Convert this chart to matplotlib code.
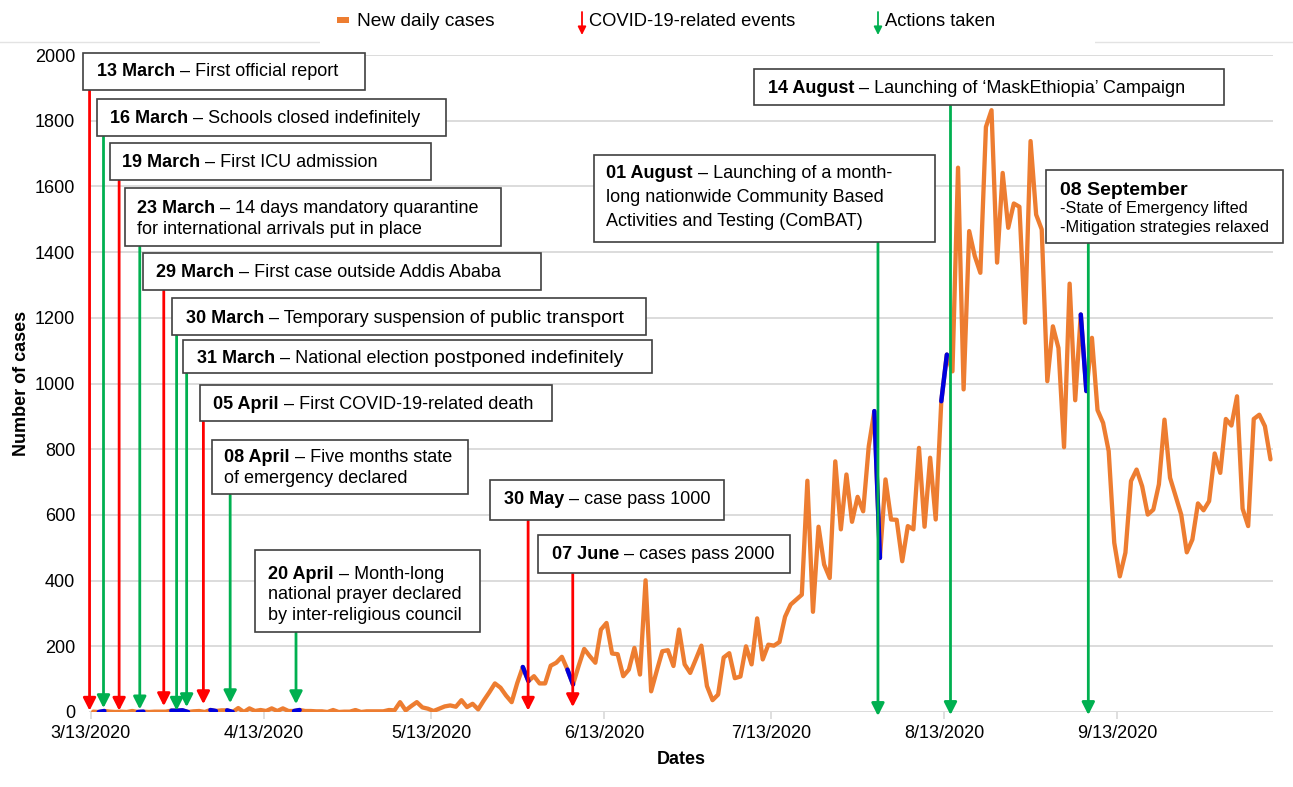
import matplotlib
matplotlib.use("Agg")
import matplotlib.pyplot as plt
import matplotlib.dates as mdates
from matplotlib.patches import Rectangle, FancyArrowPatch
from matplotlib.lines import Line2D
import pandas as pd

plt.rcParams['font.family'] = ['Liberation Sans', 'DejaVu Sans']

W, H, DPI = 1293, 787, 100

# ---------------- data ----------------
first_date = "2020-03-13"
new_daily_cases = [
    1, 0, 3, 1, 0, 1, 0, 3, 0, 1,
    0, 1, 1, 1, 4, 4, 5, 0, 2, 3,
    0, 6, 3, 5, 5, 0, 12, 0, 11, 3,
    6, 3, 11, 3, 11, 3, 3, 6, 3, 3,
    2, 2, 0, 6, 0, 1, 1, 6, 0, 2,
    2, 2, 2, 6, 5, 30, 5, 18, 30, 14,
    10, 3, 10, 17, 20, 16, 36, 15, 25, 8,
    35, 60, 87, 74, 50, 30, 88, 137, 94, 109,
    87, 87, 141, 150, 168, 129, 84, 140, 192, 170,
    150, 251, 271, 178, 176, 109, 129, 195, 114, 401,
    63, 125, 185, 188, 140, 251, 145, 119, 160, 202,
    79, 36, 53, 166, 179, 103, 108, 200, 145, 285,
    160, 205, 202, 213, 290, 327, 342, 357, 704, 305,
    564, 449, 408, 763, 556, 723, 579, 655, 611, 809,
    916, 469, 708, 586, 585, 459, 566, 556, 804, 564,
    774, 586, 946, 1088, 1037, 1657, 982, 1464, 1388, 1337,
    1781, 1832, 1368, 1641, 1474, 1548, 1538, 1185, 1738, 1514,
    1469, 1007, 1174, 1108, 806, 1304, 949, 1210, 977, 1139,
    919, 880, 794, 515, 413, 485, 703, 738, 687, 601,
    616, 693, 890, 713, 657, 601, 486, 525, 635, 614,
    642, 787, 728, 892, 872, 961, 619, 566, 892, 905,
    870, 769,
]

tick_dates = ["2020-03-13", "2020-04-13", "2020-05-13", "2020-06-13",
              "2020-07-13", "2020-08-13", "2020-09-13"]
tick_labels = ["3/13/2020", "4/13/2020", "5/13/2020", "6/13/2020",
               "7/13/2020", "8/13/2020", "9/13/2020"]
y_ticks = list(range(0, 2001, 200))

# index pairs (day numbers) of the line pieces drawn in blue
highlight_segments = [(1, 2), (8, 9), (14, 17), (21, 22), (24, 25), (36, 37),
                      (77, 78), (85, 86), (140, 141), (152, 153), (177, 178)]

event_titles = ["13 March", "16 March", "19 March", "23 March", "29 March",
                "30 March", "31 March", "05 April", "08 April", "20 April",
                "30 May", "07 June", "01 August", "14 August", "08 September"]
event_texts = [
    "– First official report",
    "– Schools closed indefinitely",
    "– First ICU admission",
    "– 14 days mandatory quarantine\nfor international arrivals put in place",
    "– First case outside Addis Ababa",
    "– Temporary suspension of|public transport",
    "– National election|postponed indefinitely",
    "– First COVID-19-related death",
    "– Five months state\nof emergency declared",
    "– Month-long\nnational prayer declared\nby inter-religious council",
    "– case pass 1000",
    "– cases pass 2000",
    "– Launching of a month-\nlong nationwide Community Based\nActivities and Testing (ComBAT)",
    "– Launching of ‘MaskEthiopia’ Campaign",
    "\n-State of Emergency lifted\n-Mitigation strategies relaxed",
]
event_kinds = ["event", "action", "event", "action", "event", "action", "action",
               "event", "action", "action", "event", "event", "action", "action",
               "action"]

# ---------------- layout (pixels of the reference) ----------------
AX_L, AX_R, AX_T, AX_B = 89, 1273, 55, 712
POINT_OFFSET = 0.45          # points sit between day ticks, as in the source
arrow_days = [-0.2, 2.3, 5.1, 8.8, 13.1, 15.4, 17.2, 20.2, 25.0, 36.8,
              78.4, 86.4, 141.1, 154.1, 178.8]
arrow_tips = [4, 12, 4, 8, 18, 4, 15, 24, 27, 24, 4, 15, -12, -9, -9]
box_px = [(83, 53, 365, 90), (97, 99, 446, 136), (110, 143, 431, 180),
          (125, 188, 501, 246), (143, 253, 541, 290), (172, 298, 646, 335),
          (183, 340, 652, 373), (200, 385, 552, 421), (212, 440, 468, 494),
          (255, 550, 480, 632), (490, 480, 724, 520), (538, 535, 790, 573),
          (594, 155, 935, 242), (754, 69, 1224, 105), (1046, 170, 1283, 243)]
text_px = [(97, 70, 0), (110, 117, 0), (122, 161, 0), (137, 207, 21),
           (156, 271, 0), (186, 317, 0), (197, 357, 0), (213, 403, 0),
           (224, 456, 21), (268, 573, 20.5), (504, 498, 0), (552, 553, 0),
           (606, 172, 24), (768, 87, 0), (1060, 189, 19)]

ORANGE = "#ED7D31"
BLUE = "#0000DD"
RED = "#FF0000"
GREEN = "#00B050"
GRID = "#D9D9D9"
BASE_FS = 13

fig = plt.figure(figsize=(W / DPI, H / DPI), dpi=DPI)
ax = fig.add_axes([AX_L / W, 1 - AX_B / H, (AX_R - AX_L) / W, (AX_B - AX_T) / H])

x0 = mdates.date2num(pd.Timestamp(first_date))
dates = pd.date_range(first_date, periods=len(new_daily_cases), freq="D")
xs = mdates.date2num(dates) + POINT_OFFSET

ax.plot(xs, new_daily_cases, color=ORANGE, lw=3.1, solid_joinstyle="round",
        solid_capstyle="round", zorder=3)
for a, b in highlight_segments:
    ax.plot(xs[a:b + 1], new_daily_cases[a:b + 1], color=BLUE, lw=3.2,
            solid_capstyle="round", solid_joinstyle="round", zorder=4)

ax.set_xlim(x0 - 0.3, x0 + 211.9)
ax.set_ylim(0, 2000)
ax.set_xticks(mdates.date2num(pd.to_datetime(tick_dates)))
ax.set_xticklabels(tick_labels)
ax.set_yticks(y_ticks)
ax.set_yticklabels([str(v) for v in y_ticks])
for s in ax.spines.values():
    s.set_visible(False)
ax.grid(axis="y", color=GRID, lw=1.3)
ax.set_axisbelow(True)
ax.tick_params(axis="x", length=5, width=1.2, color=GRID, labelsize=BASE_FS, pad=4)
ax.tick_params(axis="y", length=0, labelsize=BASE_FS, pad=10)

fig.text(22 / W, 1 - (AX_T + AX_B) / 2 / H, "Number of cases", rotation=90,
         fontsize=BASE_FS, fontweight="bold", ha="center", va="center")
fig.text((AX_L + AX_R) / 2 / W, 1 - 760 / H, "Dates", fontsize=BASE_FS,
         fontweight="bold", ha="center", va="center")


def px2val(ypx):
    return (AX_B - ypx) / (AX_B - AX_T) * 2000.0


# arrows
for i, kind in enumerate(event_kinds):
    col = RED if kind == "event" else GREEN
    xa = x0 + arrow_days[i]
    top = px2val(box_px[i][3] + 1)
    arr = FancyArrowPatch((xa, top), (xa, arrow_tips[i]),
                          arrowstyle="-|>,head_length=0.75,head_width=0.38",
                          mutation_scale=10, color=col, lw=2.0,
                          shrinkA=0, shrinkB=0, clip_on=False, zorder=6)
    ax.add_patch(arr)

renderer = fig.canvas.get_renderer()


def draw_runs(x_px, y_px, runs):
    x = x_px
    for k, (txt, wt, sz) in enumerate(runs):
        if k > 0:
            x += 0.278 * sz * DPI / 72.0
        base = y_px + 0.33 * sz * DPI / 72.0
        t = fig.text(x / W, 1 - base / H, txt, fontsize=sz, fontweight=wt,
                     ha="left", va="baseline", zorder=8)
        bb = t.get_window_extent(renderer=renderer)
        x = bb.x1


for i, title in enumerate(event_titles):
    x0b, y0b, x1b, y1b = box_px[i]
    fig.add_artist(Rectangle((x0b / W, 1 - y1b / H), (x1b - x0b) / W,
                             (y1b - y0b) / H, transform=fig.transFigure,
                             facecolor="white", edgecolor="#404040", lw=1.2,
                             zorder=7))
    tx, ty, dy = text_px[i]
    lines = event_texts[i].split("\n")
    for j, line in enumerate(lines):
        runs = []
        if j == 0:
            if line == "":
                runs.append((title, "bold", 14))
            else:
                runs.append((title, "bold", BASE_FS))
        if line:
            parts = line.split("|")
            size = 11.7 if lines[0] == "" else BASE_FS
            runs.append((parts[0], "normal", size))
            for p in parts[1:]:
                runs.append((p, "normal", 14))
        draw_runs(tx, ty + j * dy, runs)

# plot-area border line (hidden behind legend) and legend
fig.add_artist(Line2D([0, 1], [1 - 42 / H, 1 - 42 / H], transform=fig.transFigure,
                      color="#E3E3E3", lw=1.0, zorder=1))
fig.add_artist(Rectangle((320 / W, 1 - 44 / H), (1095 - 320) / W, 44 / H,
                         transform=fig.transFigure, facecolor="white",
                         edgecolor="none", zorder=2))
fig.add_artist(Rectangle((337 / W, 1 - 23 / H), 12 / W, 6 / H,
                         transform=fig.transFigure, facecolor=ORANGE,
                         edgecolor="none", zorder=3))
fig.text(357 / W, 1 - 22 / H, "New daily cases", fontsize=13.8, ha="left",
         va="center", zorder=3)
for xl, col, lab in [(582, RED, "COVID-19-related events"),
                     (878, GREEN, "Actions taken")]:
    fig.add_artist(FancyArrowPatch((xl / W, 1 - 12 / H), (xl / W, 1 - 35 / H),
                                   transform=fig.transFigure,
                                   arrowstyle="-|>,head_length=0.6,head_width=0.3",
                                   mutation_scale=8, color=col, lw=1.3,
                                   shrinkA=0, shrinkB=0, zorder=3))
    fig.text((xl + 7) / W, 1 - 22 / H, lab, fontsize=13.2, ha="left",
             va="center", zorder=3)

fig.savefig("out.png", dpi=DPI)
